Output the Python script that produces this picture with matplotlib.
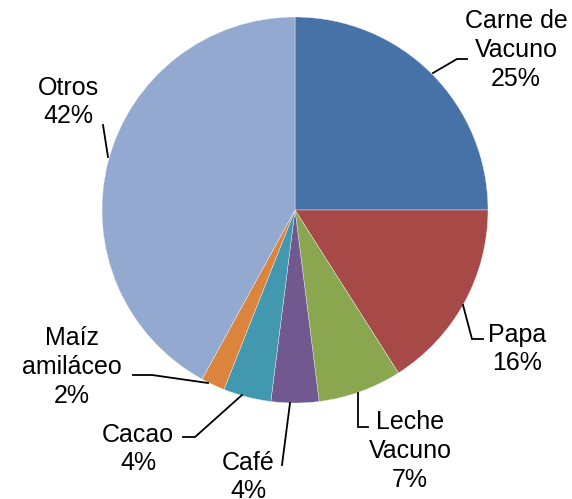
import matplotlib
matplotlib.use("Agg")
import matplotlib.pyplot as plt

categories = ["Carne de\nVacuno", "Papa", "Leche\nVacuno", "Café", "Cacao", "Maíz\namiláceo", "Otros"]
values = [25, 16, 7, 4, 4, 2, 42]
colors = ["#4672A8", "#A74A47", "#8AA64F", "#71588F", "#4298AF", "#DB843D", "#94A9D0"]

# label text centres (pixel coords, y from top) and leader lines
label_pos = [(516, 50), (517, 349), (410, 451), (248, 477), (138, 449), (72, 367), (68, 102)]
leaders = [
    [(433, 73), (457, 59), (467, 59)],
    [(463, 305), (472, 339), (483, 339)],
    [(358, 393), (358, 427), (368, 427)],
    [(290, 403), (282, 465)],
    [(242, 395), (195, 437), (183, 437)],
    [(208, 383), (152, 375), (133, 375)],
    [(108, 157), (103, 125)],
]

W, H = 572, 499
fig = plt.figure(figsize=(W / 100, H / 100), dpi=100)
ax = fig.add_axes([0, 0, 1, 1])

cx, cy, r = 295, H - 210, 193
ax.pie(values, colors=colors, startangle=90, counterclock=False,
       center=(cx, cy), radius=r, frame=True,
       wedgeprops=dict(linewidth=0.3, edgecolor="#e8ecf4"))
ax.set_xlim(0, W)
ax.set_ylim(0, H)
ax.set_aspect("equal")
ax.axis("off")

for cat, v, (tx, ty), pts in zip(categories, values, label_pos, leaders):
    ax.text(tx, H - ty, f"{cat}\n{v}%", ha="center", va="center",
            fontsize=18, family=["Liberation Sans", "DejaVu Sans"],
            linespacing=1.25, color="black")
    xs = [p[0] for p in pts]
    ys = [H - p[1] for p in pts]
    ax.plot(xs, ys, color="black", lw=1.3, solid_joinstyle="miter")

fig.savefig("out.png", dpi=100)
